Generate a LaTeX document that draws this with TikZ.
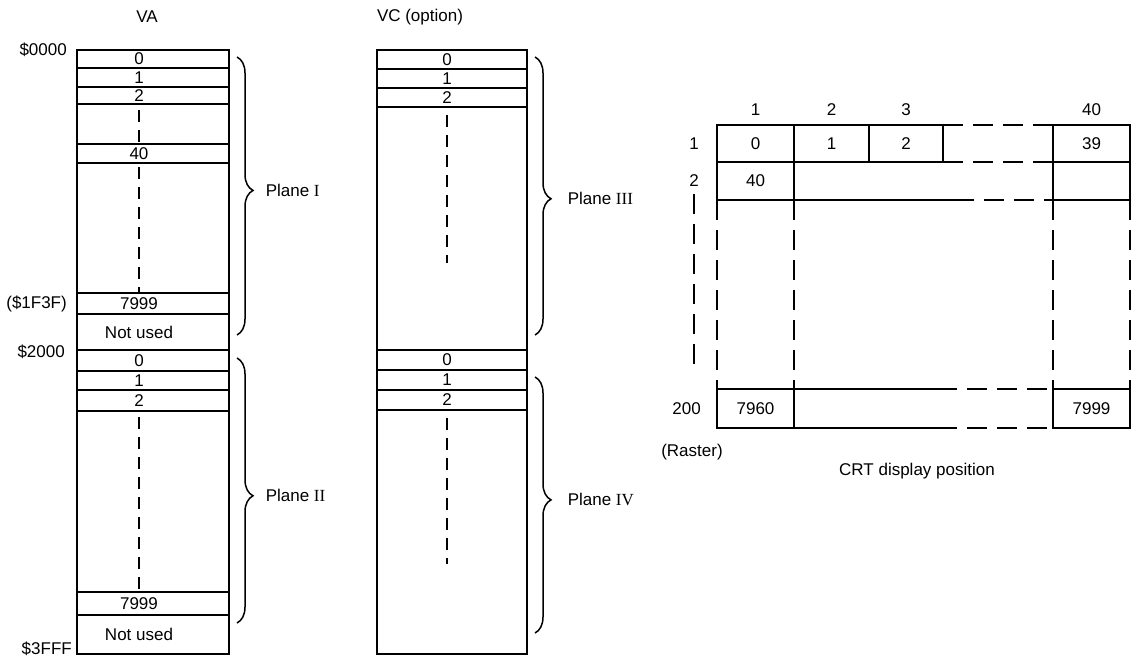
\documentclass[tikz,border=0pt]{standalone}
\usepackage{fontspec}
\setmainfont{Liberation Sans}
\newfontfamily\romnum{Liberation Serif}
\usepackage{tikz}
\usetikzlibrary{positioning,calc,decorations.pathreplacing}
\newcommand{\rn}[1]{{\romnum #1}}
\tikzset{
  cell/.style ={draw, line width=2pt, inner sep=0pt, outer sep=0pt, anchor=north west},
  txt/.style  ={inner sep=1pt},
  addr/.style ={inner sep=0pt},
  mdash/.style={line width=1.7pt, dash pattern=on 12pt off 8pt},
  gdash/.style={line width=2pt, dash pattern=on 20pt off 10pt},
  brc/.style  ={decorate, decoration={brace, amplitude=16pt, aspect=#1}, line width=1.5pt},
  plab/.style ={anchor=west, inner sep=0pt},
}

\begin{document}
\begin{tikzpicture}[x=1pt, y=-1pt, font=\fontsize{17}{20}\selectfont]
  \useasboundingbox (0,0) rectangle (1138,661);
  % VA memory, planes I and II
  \node (tva) at (147,17) {VA};
  \coordinate (vaaxis) at (139,0);
  \foreach \n/\y/\h in {0/50/18, 1/68/19, 2/87/17, g/104/40, 40/144/19, b/163/130, e/293/21, n/314/36,
                        b0/350/21, b1/371/19, b2/390/21, bb/411/181, be/592/23, bn/615/39}
    \node[cell, minimum width=152pt, minimum height=\h pt] (va\n) at (77,\y) {};
  \foreach \n/\t in {0/0, 1/1, 2/2, 40/40, e/7999, n/Not used, b0/0, b1/1, b2/2, be/7999, bn/Not used}
    \node[txt] (va\n t) at (va\n.center -| vaaxis) {\t};
  \draw[mdash, shorten <=6pt] (va2t |- va2.south) -- (va2t |- va40.north);
  \draw[mdash, shorten <=4pt] (va40t |- va40.south) -- (va40t |- vae.north);
  \draw[mdash, shorten <=6pt] (vab2t |- vab2.south) -- (vab2t |- vabe.north);
  \node[addr, left=10pt of va0.north west] (a0000) {\$0000};
  \node[addr, left=10pt of vae.west] (a1f3f) {(\$1F3F)};
  \node[addr, left=12pt of vab0.north west, yshift=-2pt] (a2000) {\$2000};
  \node[addr, left=5pt of vabn.south west, yshift=5pt] (a3fff) {\$3FFF};
  \draw[brc=0.48] ([xshift=8pt,yshift=-7pt]va0.north east) -- node[plab, pos=0.48, xshift=28pt] (pl1) {Plane \rn{I}} ([xshift=8pt,yshift=15pt]van.south east);
  \draw[brc=0.52] ([xshift=8pt,yshift=-8pt]vab0.north east) -- node[plab, pos=0.52, xshift=28pt] (pl2) {Plane \rn{II}} ([xshift=8pt,yshift=31pt]vabn.south east);
  % VC memory (option), planes III and IV
  \node (tvc) at (420,17) {VC (option)};
  \coordinate (vcaxis) at (447,0);
  \foreach \n/\y/\h in {0/50/19, 1/69/19, 2/88/19, b/107/243, d0/350/20, d1/370/20, d2/390/20, db/410/244}
    \node[cell, minimum width=150pt, minimum height=\h pt] (vc\n) at (377,\y) {};
  \foreach \n/\t in {0/0, 1/1, 2/2, d0/0, d1/1, d2/2}
    \node[txt] (vc\n t) at (vc\n.center -| vcaxis) {\t};
  \coordinate[below=158pt of vc2t] (vcend1);
  \coordinate[below=157pt of vcd2t] (vcend2);
  \draw[mdash, shorten <=8pt] (vc2t |- vc2.south) -- (vcend1);
  \draw[mdash, shorten <=8pt] (vcd2t |- vcd2.south) -- (vcend2);
  \draw[brc=0.51] ([xshift=8pt,yshift=-7pt]vc0.north east) -- node[plab, pos=0.51, xshift=32pt] (pl3) {Plane \rn{III}} ([xshift=8pt,yshift=15pt]vcb.south east);
  \draw[brc=0.48] ([xshift=8pt,yshift=-7pt]vcd1.north east) -- node[plab, pos=0.48, xshift=32pt] (pl4) {Plane \rn{IV}} ([xshift=8pt,yshift=21pt]vcdb.south east);
  % CRT display position
  \node[cell, minimum width=77pt, minimum height=37pt] (c1a) at (717,125) {0};
  \node[cell, minimum width=75pt, minimum height=37pt, right=0pt of c1a] (c1b) {1};
  \node[cell, minimum width=74pt, minimum height=37pt, right=0pt of c1b] (c1c) {2};
  \node[cell, minimum width=77pt, minimum height=37pt] (c1z) at (1053,125) {39};
  \node[cell, minimum width=77pt, minimum height=38pt, below=0pt of c1a] (c2a) {40};
  \node[cell, minimum width=77pt, minimum height=38pt, below=0pt of c1z] (c2z) {};
  \node[cell, minimum width=77pt, minimum height=39pt] (c3a) at (717,389) {7960};
  \node[cell, minimum width=77pt, minimum height=39pt] (c3z) at (1053,389) {7999};
  \draw[gdash] (c1c.north east) -- (c1z.north west);
  \draw[gdash] (c1c.south east) -- (c1z.south west);
  \draw[line width=2pt] (c2a.south east) -- ++(160,0) coordinate (r2cut);
  \draw[gdash] (r2cut) -- (c2z.south west);
  \draw[line width=2pt] (c3a.north east) -- ++(143,0) coordinate (r3cut);
  \draw[gdash] (r3cut) -- (c3z.north west);
  \draw[line width=2pt] (c3a.south east) -- ++(143,0) coordinate (r4cut);
  \draw[gdash] (r4cut) -- (c3z.south west);
  \draw[gdash] (c2a.south west) -- (c3a.north west);
  \draw[gdash] (c2a.south east) -- (c3a.north east);
  \draw[gdash] (c2z.south west) -- (c3z.north west);
  \draw[gdash] (c2z.south east) -- (c3z.north east);
  \node[txt, above=8pt of c1a] (h1) {1};
  \node[txt, above=8pt of c1b] (h2) {2};
  \node[txt, above=8pt of c1c] (h3) {3};
  \node[txt, above=8pt of c1z] (h40) {40};
  \node[txt, left=17pt of c1a] (r1) {1};
  \node[txt, left=17pt of c2a] (r2) {2};
  \node[txt, left=15pt of c3a] (r200) {200};
  \draw[gdash, shorten <=6pt, shorten >=32pt] (r2.south) -- (r2.south |- r200.north);
  \node[txt] (raster) at (692,452) {(Raster)};
  \node[txt] (crt) at (917,471) {CRT display position};
\end{tikzpicture}
\end{document}
